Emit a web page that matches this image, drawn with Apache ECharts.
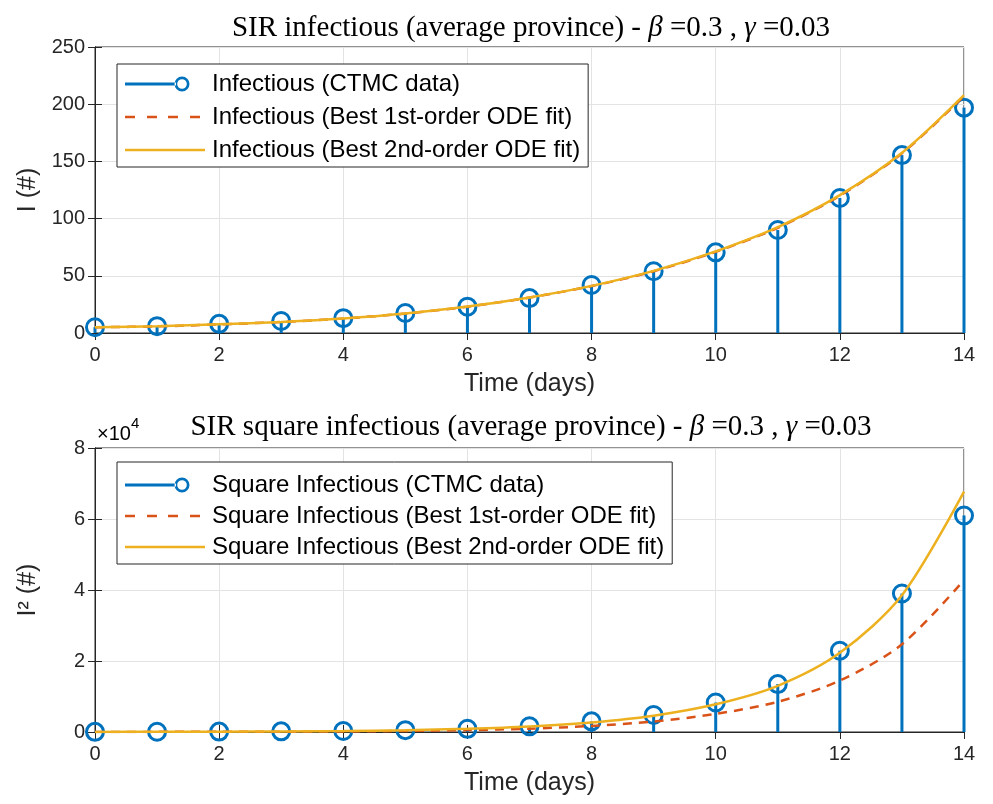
<!DOCTYPE html>
<html>
<head>
<meta charset="utf-8">
<script src="https://cdn.jsdelivr.net/npm/echarts@6/dist/echarts.min.js"></script>
<style>
  html, body { margin: 0; padding: 0; background: #fff; }
  #chart { width: 993px; height: 804px; }
</style>
</head>
<body>
<div id="chart"></div>
<script>
// Values
const days = [0, 1, 2, 3, 4, 5, 6, 7, 8, 9, 10, 11, 12, 13, 14];

// Top panel: infectious count
const infCTMC = [5, 6, 8, 10.5, 13, 17.5, 23, 30.5, 42, 54, 70.5, 90, 118, 155.5, 197];
const infFit1 = [5, 5.8, 7.5, 9.6, 12.6, 17, 23, 31, 41, 54, 71, 92, 120, 157, 207];
const infFit2 = [5, 5.9, 7.6, 9.7, 12.7, 17.1, 23.1, 31.1, 41.2, 54.3, 71.3, 92.5, 120.5, 157.5, 208];

// Bottom panel: square infectious
const sqCTMC = [40, 60, 110, 190, 290, 520, 900, 1600, 3000, 4800, 8300, 13500, 22900, 39000, 61000];
const sqFit1 = [25, 35, 56, 92, 160, 290, 530, 950, 1700, 2950, 5100, 8500, 14500, 24700, 42800];
const sqFit2 = [30, 50, 90, 160, 280, 520, 900, 1550, 2700, 4600, 7800, 13000, 22300, 38500, 67700];

const BLUE = '#0072BD', ORANGE = '#D95319', YELLOW = '#EDB120', INK = '#262626';
const SANS = 'Liberation Sans, Arial, sans-serif';
const SERIF = 'Liberation Serif, serif';

const pairs = (ys) => days.map((d, i) => [d, ys[i]]);

// legend glyphs, drawn in an 82x26 box (corner specks fix the box size)
const CORNERS = 'M0,0h0.01v0.01h-0.01Z M82,26h-0.01v-0.01h0.01Z ';
const ICON_STEM = 'path://' + CORNERS + 'M0,11.5h51v3h-51Z ' +
  'M49.5,13a7.5,7.5 0 1,0 15,0a7.5,7.5 0 1,0 -15,0Z M52.2,13a4.8,4.8 0 1,1 9.6,0a4.8,4.8 0 1,1 -9.6,0Z';
const ICON_DASH = 'path://' + CORNERS +
  'M0,11.75h10v2.5h-10Z M22,11.75h10v2.5h-10Z M43,11.75h10v2.5h-10Z M65,11.75h10v2.5h-10Z';
const ICON_SOLID = 'path://' + CORNERS + 'M0,11.75h80v2.5h-80Z';

const chart = echarts.init(document.getElementById('chart'));

function titleText(word) {
  return '{n|SIR ' + word + ' (average province) - }{i|β}{n| =0.3 , }{i|γ}{n| =0.03}';
}
const titleRich = {
  n: { fontFamily: SERIF, fontSize: 29, fontWeight: 'normal', color: '#000' },
  i: { fontFamily: SERIF, fontSize: 29, fontWeight: 'normal', fontStyle: 'italic', color: '#000' }
};

function xAxes(gridIndex) {
  return [{
    type: 'value', gridIndex, min: 0, max: 14, interval: 2,
    name: 'Time (days)', nameLocation: 'middle', nameGap: 39,
    nameTextStyle: { fontFamily: SANS, fontSize: 25, color: INK },
    axisLine: { onZero: false, lineStyle: { color: INK, width: 1 } },
    axisTick: { inside: true, length: 7, lineStyle: { color: INK } },
    axisLabel: { fontFamily: SANS, fontSize: 20, color: INK, margin: 12 },
    splitLine: { show: true, lineStyle: { color: '#e3e3e3', width: 1 } }
  }, {
    type: 'value', gridIndex, min: 0, max: 14, interval: 2, position: 'top',
    axisLine: { show: true, lineStyle: { color: INK } },
    axisTick: { inside: true, length: 7, lineStyle: { color: INK } },
    axisLabel: { show: false }, splitLine: { show: false }
  }];
}

function yAxes(gridIndex, max, interval, name, fmt) {
  return [{
    type: 'value', gridIndex, min: 0, max, interval,
    name, nameLocation: 'middle', nameGap: 54,
    nameTextStyle: { fontFamily: SANS, fontSize: 25, color: INK },
    axisLine: { show: true, lineStyle: { color: INK, width: 1 } },
    axisTick: { show: true, inside: true, length: 7, lineStyle: { color: INK } },
    axisLabel: { fontFamily: SANS, fontSize: 20, color: INK, margin: 10, formatter: fmt },
    splitLine: { show: true, lineStyle: { color: '#e3e3e3', width: 1 } }
  }, {
    type: 'value', gridIndex, min: 0, max, interval, position: 'right',
    axisLine: { show: true, lineStyle: { color: INK } },
    axisTick: { show: true, inside: true, length: 7, lineStyle: { color: INK } },
    axisLabel: { show: false }, splitLine: { show: false }
  }];
}

function panelSeries(idx, names, ctmc, fit1, fit2) {
  return [{
    type: 'bar', name: 'stem' + idx, xAxisIndex: idx * 2, yAxisIndex: idx * 2,
    data: pairs(ctmc), barWidth: 3, itemStyle: { color: BLUE }, silent: true, z: 2
  }, {
    type: 'line', name: names[0], xAxisIndex: idx * 2, yAxisIndex: idx * 2,
    data: pairs(ctmc), symbol: 'circle', symbolSize: 17, showSymbol: true,
    itemStyle: { color: 'rgba(0,0,0,0)', borderColor: BLUE, borderWidth: 3 },
    lineStyle: { width: 0, color: BLUE }, z: 3
  }, {
    type: 'line', name: names[1], xAxisIndex: idx * 2, yAxisIndex: idx * 2,
    data: pairs(fit1), smooth: 0.3, showSymbol: false, symbol: 'none',
    lineStyle: { color: ORANGE, width: 2.5, type: [9, 7] }, itemStyle: { color: ORANGE }, z: 4
  }, {
    type: 'line', name: names[2], xAxisIndex: idx * 2, yAxisIndex: idx * 2,
    data: pairs(fit2), smooth: 0.3, showSymbol: false, symbol: 'none',
    lineStyle: { color: YELLOW, width: 2.5 }, itemStyle: { color: YELLOW }, z: 5
  }];
}

const topNames = ['Infectious (CTMC data)', 'Infectious (Best 1st-order ODE fit)', 'Infectious (Best 2nd-order ODE fit)'];
const botNames = ['Square Infectious (CTMC data)', 'Square Infectious (Best 1st-order ODE fit)', 'Square Infectious (Best 2nd-order ODE fit)'];

function legend(names, left, top, gap, padTop) {
  return {
    orient: 'vertical', left, top,
    itemWidth: 82, itemHeight: 26, itemGap: gap,
    symbolKeepAspect: false,
    padding: [padTop, 8, 4, 8],
    backgroundColor: '#fff', borderColor: INK, borderWidth: 1,
    textStyle: { fontFamily: SANS, fontSize: 24, color: '#000', lineHeight: 26 },
    selectedMode: false,
    data: [
      { name: names[0], icon: ICON_STEM, itemStyle: { color: BLUE, borderWidth: 0 } },
      { name: names[1], icon: ICON_DASH, itemStyle: { color: ORANGE, borderWidth: 0 } },
      { name: names[2], icon: ICON_SOLID, itemStyle: { color: YELLOW, borderWidth: 0 } }
    ]
  };
}

const option = {
  backgroundColor: '#fff',
  animation: false,
  title: [
    { text: titleText('infectious'), left: 526, top: 9, textAlign: 'center', textStyle: { rich: titleRich } },
    { text: titleText('square infectious'), left: 526, top: 408, textAlign: 'center', textStyle: { rich: titleRich } }
  ],
  grid: [
    { left: 95, right: 29, top: 47, height: 286, show: true, borderColor: INK, borderWidth: 1 },
    { left: 95, right: 29, top: 448, height: 284, show: true, borderColor: INK, borderWidth: 1 }
  ],
  legend: [legend(topNames, 117, 64, 7, 7), legend(botNames, 117, 462, 5, 10)],
  xAxis: [...xAxes(0), ...xAxes(1)],
  yAxis: [
    ...yAxes(0, 250, 50, 'I (#)'),
    ...yAxes(1, 80000, 20000, 'I² (#)', (v) => String(v / 10000))
  ],
  graphic: [{
    type: 'text', left: 97, top: 416,
    style: {
      text: '{a|×10}{b|4}',
      rich: {
        a: { fontFamily: SANS, fontSize: 20, color: INK, verticalAlign: 'bottom', lineHeight: 28 },
        b: { fontFamily: SANS, fontSize: 15, color: INK, verticalAlign: 'top', lineHeight: 28 }
      }
    }
  }],
  series: [
    ...panelSeries(0, topNames, infCTMC, infFit1, infFit2),
    ...panelSeries(1, botNames, sqCTMC, sqFit1, sqFit2)
  ]
};

chart.setOption(option);
</script>
</body>
</html>
